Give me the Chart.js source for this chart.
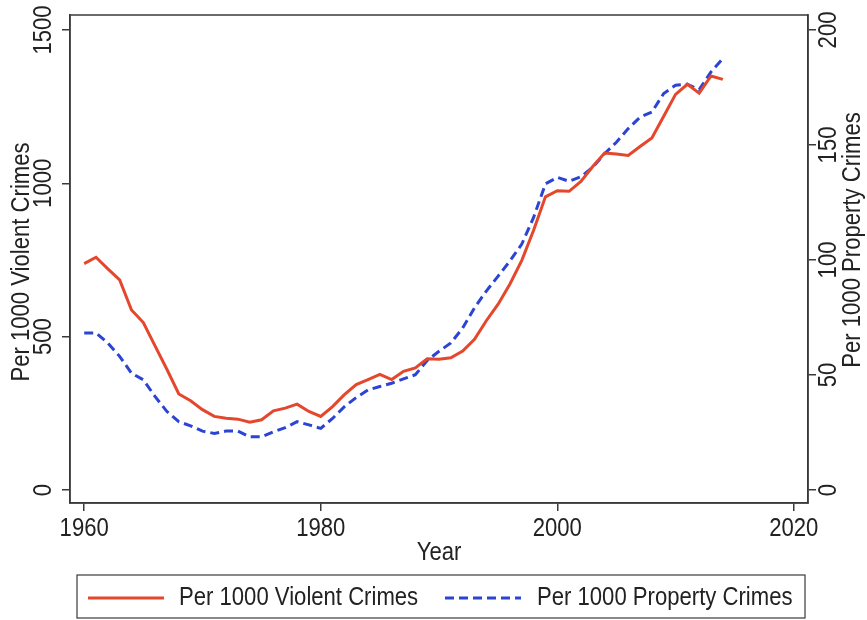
<!DOCTYPE html>
<html><head><meta charset="utf-8">
<script src="https://cdn.jsdelivr.net/npm/chart.js@4"></script>
<style>html,body{margin:0;padding:0;background:#fff}#wrap{width:867px;height:620px}</style>
</head><body><div id="wrap"><canvas id="c" width="867" height="620"></canvas></div>
<script>
const years = [1960,1961,1962,1963,1964,1965,1966,1967,1968,1969,1970,1971,1972,1973,1974,1975,1976,1977,1978,1979,1980,1981,1982,1983,1984,1985,1986,1987,1988,1989,1990,1991,1992,1993,1994,1995,1996,1997,1998,1999,2000,2001,2002,2003,2004,2005,2006,2007,2008,2009,2010,2011,2012,2013,2014];
const violent = [738,759,721,685,587,546,469,393,313,291,262,240,234,231,221,229,258,267,280,256,240,272,311,344,360,377,360,387,398,428,426,431,453,491,552,606,672,749,847,956,976,974,1006,1055,1099,1096,1091,1120,1148,1219,1290,1323,1294,1350,1339];
const property = [68.3,68.3,63.9,58.1,50.8,47.9,40.6,34.1,29.7,27.9,25.6,24.6,25.6,25.6,23.1,23.1,25.3,27.1,29.7,28.3,26.8,31.1,36.2,40.2,43.5,45.0,46.4,48.3,50.1,56.3,60.3,63.9,70.4,79.2,86.5,93.0,99.6,106.9,118.5,133.1,135.9,134.2,136.2,140.3,146.2,151.2,157.1,162.1,164.3,172.4,176.0,176.4,174.1,181.8,187.6];
const xTicks = [1960,1980,2000,2020];
const leftTicks = [0,500,1000,1500];
const rightTicks = [0,50,100,150,200];
const seriesLabels = ['Per 1000 Violent Crimes','Per 1000 Property Crimes'];
const xTitle = 'Year';
const leftTitle = 'Per 1000 Violent Crimes';
const rightTitle = 'Per 1000 Property Crimes';

const RED = '#E4472B', BLUE = '#2B44D4', INK = '#222', FRAME = '#3a3a3a';
const FAM = '"Liberation Sans", Arial, sans-serif';
const FS = 26, K = 0.85;

const textPlugin = {
  id: 'textPlugin',
  afterDraw(chart) {
    const ctx = chart.ctx, a = chart.chartArea;
    const sx = chart.scales.x, sy = chart.scales.y, sy2 = chart.scales.y2;
    ctx.save();
    ctx.strokeStyle = FRAME; ctx.lineWidth = 1.5;
    ctx.strokeRect(a.left, a.top, a.right - a.left, a.bottom - a.top);
    ctx.fillStyle = INK;
    ctx.font = FS + 'px ' + FAM;
    ctx.textBaseline = 'middle';
    const txt = (s, x, y, ang, align) => {
      ctx.save(); ctx.translate(x, y); ctx.rotate(ang); ctx.scale(K, 1);
      ctx.textAlign = align; ctx.fillText(s, 0, 0); ctx.restore();
    };
    const R = -Math.PI / 2;
    sx.ticks.forEach(t => txt(String(t.value), sx.getPixelForValue(t.value), 529, 0, 'center'));
    txt(xTitle, (a.left + a.right) / 2, 553, 0, 'center');
    sy.ticks.forEach(t => txt(String(t.value), 44, sy.getPixelForValue(t.value), R, 'center'));
    sy2.ticks.forEach(t => txt(String(t.value), 829, sy2.getPixelForValue(t.value), R, 'center'));
    txt(leftTitle, 22, 262, R, 'center');
    txt(rightTitle, 853, 240, R, 'center');
    // legend
    ctx.strokeStyle = FRAME; ctx.lineWidth = 1.2;
    ctx.strokeRect(77, 575, 728, 43);
    const ly = 598;
    const ds = chart.data.datasets;
    const items = [{x0: 88, x1: 164, tx: 179}, {x0: 445, x1: 521, tx: 537}];
    items.forEach((it, i) => {
      ctx.save();
      ctx.strokeStyle = ds[i].borderColor; ctx.lineWidth = ds[i].borderWidth;
      ctx.setLineDash(ds[i].borderDash || []);
      ctx.beginPath(); ctx.moveTo(it.x0, ly); ctx.lineTo(it.x1, ly); ctx.stroke();
      ctx.restore();
      txt(ds[i].label, it.tx, ly, 0, 'left');
    });
    ctx.restore();
  }
};

const axisCommon = (w) => ({
  ticks: { display: false },
  grid: { drawOnChartArea: false, drawTicks: true, tickLength: 8, color: FRAME, lineWidth: 1.5 },
  border: { display: true, color: FRAME, width: 1.5 },
  title: { display: false },
  afterFit: s => { if (s.isHorizontal()) s.height = w; else s.width = w; }
});

new Chart(document.getElementById('c'), {
  type: 'line',
  data: {
    datasets: [
      { label: seriesLabels[0], data: years.map((yr, i) => ({ x: yr, y: violent[i] })), borderColor: RED, backgroundColor: RED, borderWidth: 3, pointRadius: 0, tension: 0, yAxisID: 'y' },
      { label: seriesLabels[1], data: years.map((yr, i) => ({ x: yr, y: property[i] })), borderColor: BLUE, backgroundColor: BLUE, borderWidth: 3, borderDash: [9, 5], pointRadius: 0, tension: 0, yAxisID: 'y2' }
    ]
  },
  options: {
    responsive: false, animation: false, devicePixelRatio: 1,
    layout: { padding: { top: 15, left: 0, right: 0, bottom: 0 } },
    plugins: { legend: { display: false }, tooltip: { enabled: false } },
    scales: {
      x: Object.assign(axisCommon(117), { type: 'linear', position: 'bottom', min: 1958.8, max: 2021.2,
        afterBuildTicks: s => { s.ticks = xTicks.map(v => ({ value: v })); } }),
      y: Object.assign(axisCommon(70), { type: 'linear', position: 'left', min: -42.4, max: 1548.9,
        afterBuildTicks: s => { s.ticks = leftTicks.map(v => ({ value: v })); } }),
      y2: Object.assign(axisCommon(59), { type: 'linear', position: 'right', min: -5.65, max: 206.5,
        afterBuildTicks: s => { s.ticks = rightTicks.map(v => ({ value: v })); } })
    }
  },
  plugins: [textPlugin]
});
</script></body></html>
